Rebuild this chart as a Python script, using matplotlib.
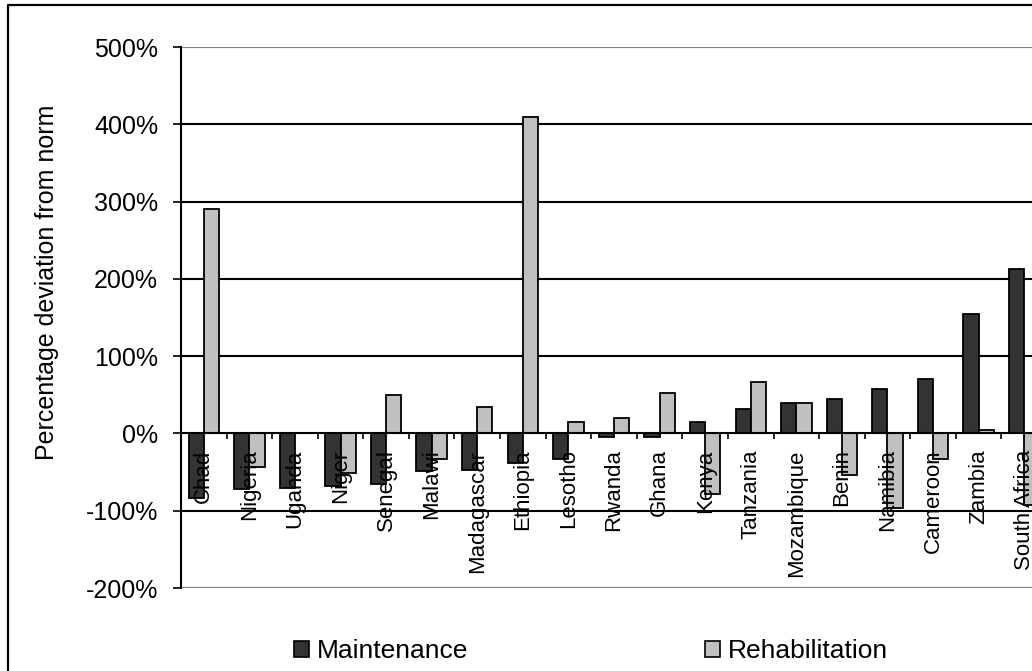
import matplotlib
matplotlib.use("Agg")
import matplotlib.pyplot as plt
from matplotlib.lines import Line2D
from matplotlib.patches import Patch
import numpy as np

countries = ["Chad", "Nigeria", "Uganda", "Niger", "Senegal", "Malawi", "Madagascar",
             "Ethiopia", "Lesotho", "Rwanda", "Ghana", "Kenya", "Tanzania", "Mozambique",
             "Benin", "Namibia", "Cameroon", "Zambia", "South Africa"]
maintenance = [-83, -72, -70, -68, -65, -49, -47, -38, -33, -5, -5, 15, 31, 39, 44, 57, 71, 155, 213]
rehabilitation = [290, -44, 0, -51, 50, -33, 34, 410, 15, 20, 52, -78, 66, 39, -54, -96, -33, 5, -93]
y_ticks = [-200, -100, 0, 100, 200, 300, 400, 500]
series_names = ["Maintenance", "Rehabilitation"]

W, H = 1032, 671
DPI = 100
plt.rcParams['font.family'] = ['Liberation Sans', 'DejaVu Sans']

fig = plt.figure(figsize=(W / DPI, H / DPI), dpi=DPI)
fig.patch.set_facecolor('white')

ax_left, ax_right, ax_top, ax_bot = 181, 1047, 47, 588
ax = fig.add_axes([ax_left / W, 1 - ax_bot / H, (ax_right - ax_left) / W, (ax_bot - ax_top) / H])

x = np.arange(len(countries))
bw = 1 / 3
c_dark = '#333333'
c_light = '#c0c0c0'
ax.bar(x - bw / 2, maintenance, bw, color=c_dark, edgecolor='black', linewidth=1.3, zorder=2)
ax.bar(x + bw / 2, rehabilitation, bw, color=c_light, edgecolor='black', linewidth=1.3, zorder=2)

ax.set_xlim(-0.5, len(countries) - 0.5)
ax.set_ylim(y_ticks[0], y_ticks[-1])

# gridlines
for v in y_ticks:
    if v in (y_ticks[0], y_ticks[-1]):
        ax.axhline(v, color='#808080', linewidth=1.6, zorder=0.5)
    elif v != 0:
        ax.axhline(v, color='black', linewidth=1.5, zorder=0.5)

# spines
ax.spines['right'].set_visible(False)
ax.spines['top'].set_visible(False)
ax.spines['left'].set_color('black')
ax.spines['left'].set_linewidth(1.5)
ax.spines['bottom'].set_position(('data', 0))
ax.spines['bottom'].set_linewidth(1.5)
ax.spines['bottom'].set_color('black')
ax.spines['bottom'].set_zorder(3)

ax.set_yticks(y_ticks)
ax.set_yticklabels([f"{v}%" for v in y_ticks])
ax.tick_params(axis='y', direction='out', length=6, width=1.2, pad=10.5, labelsize=18, colors='black')

ax.set_xticks(x)
ax.set_xticklabels(countries, rotation=90, fontsize=16)
ax.set_xticks(x[:-1] + 0.5, minor=True)
ax.tick_params(axis='x', which='major', length=0, pad=11.5)
ax.tick_params(axis='x', which='minor', direction='out', length=4.5, width=1.2)
for lbl in ax.get_xticklabels():
    lbl.set_verticalalignment('top')
    lbl.set_horizontalalignment('center')
ax.xaxis.set_zorder(3)

# y-axis label
fig.text(47 / W, 1 - 282 / H, "Percentage deviation from norm", rotation=90,
         ha='center', va='center', fontsize=18)

# legend
handles = [Patch(facecolor=c_dark, edgecolor='black', linewidth=1.2),
           Patch(facecolor=c_light, edgecolor='black', linewidth=1.2)]
fig.legend(handles, series_names, loc='center left', bbox_to_anchor=(294 / W, 1 - 651 / H),
           ncol=2, frameon=False, fontsize=19, handlelength=0.55, handleheight=0.55,
           handletextpad=0.3, columnspacing=9.0, borderpad=0, borderaxespad=0)

# figure border (top and left visible)
bx, by = 8 / W, 1 - 5 / H
fig.add_artist(Line2D([bx, bx, 1.0], [0.0, by, by], transform=fig.transFigure,
                      color='black', linewidth=1.6))

fig.savefig('out.png', dpi=DPI)
